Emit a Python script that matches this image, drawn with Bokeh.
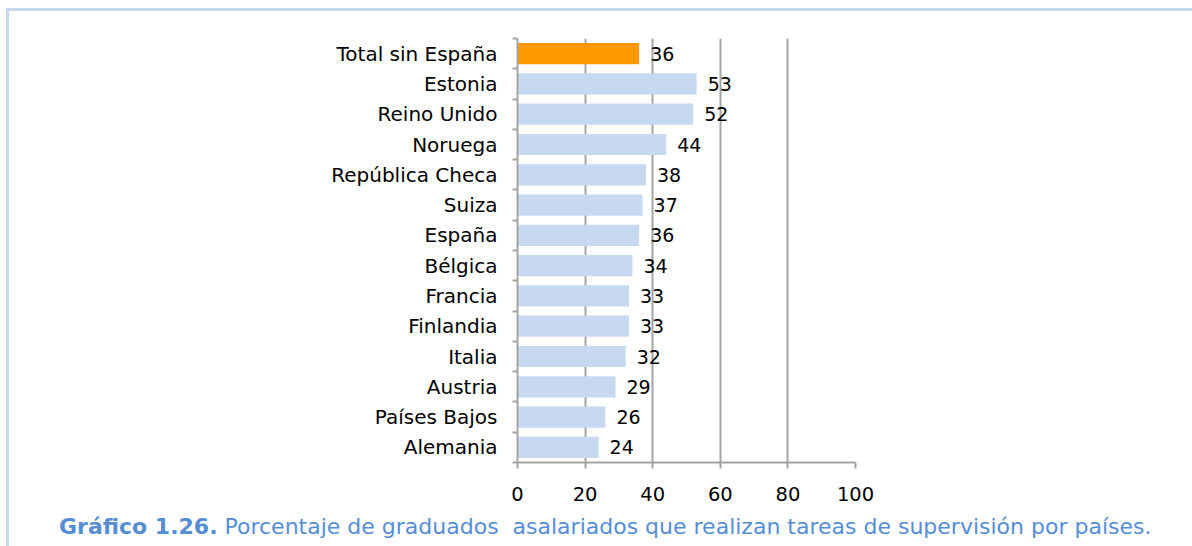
from bokeh.plotting import figure
from bokeh.models import ColumnDataSource, FixedTicker, Range1d, LabelSet, Div
from bokeh.layouts import column
from bokeh.embed import file_html
from bokeh.resources import INLINE
from bokeh.core.properties import value

countries = ["Total sin España", "Estonia", "Reino Unido", "Noruega", "República Checa",
             "Suiza", "España", "Bélgica", "Francia", "Finlandia", "Italia", "Austria",
             "Países Bajos", "Alemania"]
values = [36, 53, 52, 44, 38, 37, 36, 34, 33, 33, 32, 29, 26, 24]
colors = ["#FF9900"] + ["#C6D9F1"] * (len(countries) - 1)
x_ticks = [0, 20, 40, 60, 80, 100]
caption_bold = "Gráfico 1.26."
caption_text = "Porcentaje de graduados&nbsp; asalariados que realizan tareas de supervisión por países."

n = len(countries)
ypos = [n - 1 - i + 0.5 for i in range(n)]
src = ColumnDataSource(dict(y=ypos, v=values, c=colors, name=countries,
                            lab=[str(v) for v in values]))

FONT = "DejaVu Sans"
GRAY = "#A4A4A4"
OX, OY = 9, 11          # where the figure starts on the page
W, H = 1180, 500
p = figure(width=W, height=H, output_backend="svg", toolbar_location=None,
           x_range=Range1d(0, 100), y_range=Range1d(0, n),
           min_border_left=517 - OX, min_border_right=W - (855 - OX),
           min_border_top=38 - OY, min_border_bottom=H - (462 - OY),
           border_fill_color="white", background_fill_color="white")
p.outline_line_color = None

p.hbar(y="y", right="v", left=0, height=0.7, fill_color="c", line_color=None, source=src)
p.add_layout(LabelSet(x="v", y="y", text="lab", source=src, x_offset=11,
                      text_baseline="middle", text_font=value(FONT),
                      text_font_size="19px", text_color="black"))

# x axis
p.xaxis.ticker = FixedTicker(ticks=x_ticks)
p.xaxis.axis_line_color = GRAY
p.xaxis.axis_line_width = 2
p.xaxis.major_tick_line_color = GRAY
p.xaxis.major_tick_line_width = 2
p.xaxis.major_tick_out = 6
p.xaxis.major_tick_in = 0
p.xaxis.minor_tick_line_color = None
p.xaxis.major_label_standoff = 18
p.xaxis.major_label_text_font = FONT
p.xaxis.major_label_text_font_size = "19.5px"
p.xaxis.major_label_text_color = "black"

# y axis
p.yaxis.ticker = FixedTicker(ticks=ypos, minor_ticks=list(range(n + 1)))
p.yaxis.major_label_overrides = {y: c for y, c in zip(ypos, countries)}
p.yaxis.axis_line_color = GRAY
p.yaxis.axis_line_width = 2
p.yaxis.major_tick_line_color = None
p.yaxis.minor_tick_line_color = GRAY
p.yaxis.minor_tick_line_width = 2
p.yaxis.minor_tick_out = 5
p.yaxis.minor_tick_in = 0
p.yaxis.major_label_standoff = 14
p.yaxis.major_label_text_font = FONT
p.yaxis.major_label_text_font_size = "20px"
p.yaxis.major_label_text_color = "black"

p.xgrid.ticker = FixedTicker(ticks=x_ticks[1:])
p.xgrid.grid_line_color = GRAY
p.xgrid.grid_line_width = 2
p.ygrid.grid_line_color = None

cap = Div(
    text=(f'<span style="font-family:\'{FONT}\';font-size:22px;color:#558ED5;white-space:nowrap">'
          f'<b>{caption_bold}</b> {caption_text}</span>'),
    width=W, height=30,
    styles={"padding-left": f"{60 - OX - 6}px", "line-height": "22px"})

layout = column(p, cap, spacing=0,
                styles={"margin-left": "6px", "margin-top": "8px",
                        "border-left": "3px solid #C6D9F1",
                        "border-top": "3px solid #C6D9F1"})

open("out.html", "w").write(file_html(layout, INLINE))
